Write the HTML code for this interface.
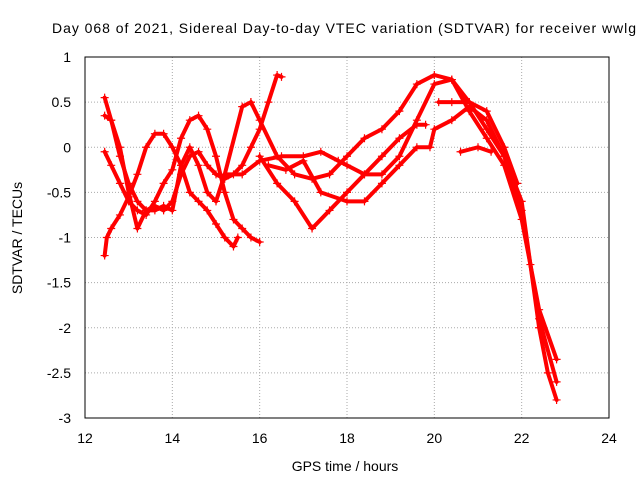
<!DOCTYPE html>
<html><head><meta charset="utf-8"><style>
body{margin:0;background:#fff}
svg{display:block;font-family:"Liberation Sans",sans-serif}
</style></head><body>
<svg id="chart" width="640" height="480">
<text x="52" y="33" font-size="14" textLength="584" lengthAdjust="spacing">Day 068 of 2021, Sidereal Day-to-day VTEC variation (SDTVAR) for receiver wwlg</text>
<text x="345" y="471" font-size="14" text-anchor="middle">GPS time / hours</text>
<text x="22" y="238" font-size="14" text-anchor="middle" transform="rotate(-90 22 238)">SDTVAR / TECUs</text>
<g id="grid"></g>
<g id="ticks"></g>
<g id="series"></g>
<rect x="85" y="57" width="524" height="361" fill="none" stroke="#000"/>
</svg>
<script>
const xTicks=[12,14,16,18,20,22,24];
const yTicks=[1,0.5,0,-0.5,-1,-1.5,-2,-2.5,-3];
const trackA=[[12.45,0.55],[12.6,0.3],[12.8,-0.1],[13.0,-0.4],[13.2,-0.6],[13.4,-0.7],[13.6,-0.65],[13.8,-0.7],[14.0,-0.6],[14.2,-0.3],[14.4,-0.1],[14.6,-0.05],[14.8,-0.2],[15.0,-0.3],[15.2,-0.35],[15.4,-0.3],[15.6,-0.2],[15.8,0.0],[16.0,0.2],[16.2,0.5],[16.4,0.8],[16.5,0.78]];
const trackB=[[12.45,-1.2],[12.5,-1.0],[12.6,-0.9],[12.8,-0.75],[13.0,-0.55],[13.2,-0.3],[13.4,0.0],[13.6,0.15],[13.8,0.15],[14.0,0.0],[14.2,-0.2],[14.4,-0.5],[14.6,-0.6],[14.8,-0.7],[15.0,-0.85],[15.2,-1.0],[15.4,-1.1],[15.5,-1.0]];
const trackC=[[12.45,-0.05],[12.6,-0.2],[12.8,-0.4],[13.0,-0.6],[13.2,-0.7],[13.4,-0.75],[13.6,-0.6],[13.8,-0.4],[14.0,-0.25],[14.2,0.1],[14.4,0.3],[14.6,0.35],[14.8,0.2],[15.0,-0.1],[15.2,-0.5],[15.4,-0.8],[15.6,-0.9],[15.8,-1.0],[16.0,-1.05]];
const trackD=[[12.45,0.35],[12.6,0.3],[12.8,0.0],[13.0,-0.5],[13.2,-0.9],[13.4,-0.7],[13.6,-0.7],[13.8,-0.65],[14.0,-0.7],[14.2,-0.2],[14.4,0.0],[14.6,-0.2],[14.8,-0.5],[15.0,-0.6],[15.2,-0.3],[15.6,0.45],[15.8,0.5]];
const trackE=[[15.2,-0.3],[15.6,-0.3],[16.0,-0.15],[16.5,-0.1],[17.0,-0.1],[17.4,-0.05],[17.8,-0.15],[18.0,-0.2],[18.4,-0.3],[18.8,-0.3],[19.2,-0.1],[19.6,0.3],[20.0,0.7],[20.4,0.75],[20.8,0.5],[21.2,0.2],[21.6,-0.1],[22.0,-0.6],[22.2,-1.3],[22.4,-2.0],[22.6,-2.5],[22.8,-2.8]];
const trackF=[[15.8,0.5],[16.0,0.3],[16.4,-0.1],[16.8,-0.3],[17.2,-0.35],[17.6,-0.3],[18.0,-0.1],[18.4,0.1],[18.8,0.2],[19.2,0.4],[19.6,0.7],[20.0,0.8],[20.4,0.75],[20.8,0.4],[21.2,0.1],[21.6,-0.2],[22.0,-0.8],[22.4,-1.8],[22.8,-2.35]];
const trackG=[[16.0,-0.1],[16.4,-0.4],[16.8,-0.6],[17.2,-0.9],[17.6,-0.7],[18.0,-0.5],[18.4,-0.3],[18.8,-0.1],[19.2,0.1],[19.6,0.25],[19.8,0.25]];
const trackH=[[16.2,-0.2],[16.6,-0.25],[17.0,-0.15],[17.4,-0.5],[18.0,-0.6],[18.4,-0.6],[18.8,-0.4],[19.2,-0.2],[19.6,0.0],[19.9,0.0],[20.0,0.2],[20.4,0.3],[20.8,0.45],[21.2,0.3],[21.6,-0.1],[22.0,-0.7],[22.4,-1.9],[22.8,-2.6]];
const trackI=[[20.1,0.5],[20.4,0.5],[20.8,0.5],[21.2,0.4],[21.6,0.0],[21.9,-0.4]];
const trackJ=[[20.6,-0.05],[21.0,0.0],[21.3,-0.05]];
const tracks=[trackA,trackB,trackC,trackD,trackE,trackF,trackG,trackH,trackI,trackJ];

const X0=85,X1=609,Y0=57,Y1=418;
const xs=v=>X0+(v-12)/(24-12)*(X1-X0);
const ys=v=>Y0+(1-v)/(1-(-3))*(Y1-Y0);
const NS='http://www.w3.org/2000/svg';
const grid=document.getElementById('grid'),ticks=document.getElementById('ticks'),ser=document.getElementById('series');
function mk(t,a,p){const e=document.createElementNS(NS,t);for(const k in a)e.setAttribute(k,a[k]);p.appendChild(e);return e;}
xTicks.forEach(v=>{
 const x=xs(v);
 if(v>12&&v<24){const l=mk('line',{x1:x,x2:x,y1:Y0,y2:Y1,stroke:'#aaa','stroke-dasharray':'1,2'},grid);
 
 }
 const t=mk('text',{x:x,y:443,'font-size':14,'text-anchor':'middle'},ticks);t.textContent=v;
 
 
});
yTicks.forEach(v=>{
 const y=ys(v);
 if(v<1&&v>-3){const l=mk('line',{x1:X0,x2:X1,y1:y,y2:y,stroke:'#aaa','stroke-dasharray':'1,2'},grid);
 
 }
 const t=mk('text',{x:71,y:y+5,'font-size':14,'text-anchor':'end'},ticks);t.textContent=v;
 
 
});
tracks.forEach((tr,i)=>{
 const pts=tr.map(p=>xs(p[0])+','+ys(p[1])).join(' ');
 const pl=mk('polyline',{points:pts,fill:'none',stroke:'#f00','stroke-width':4,'stroke-linejoin':'round','stroke-linecap':'round'},ser);
 
 
 tr.forEach(p=>{const x=xs(p[0]),y=ys(p[1]);
  const m=mk('path',{d:`M${x-4},${y}H${x+4}M${x},${y-4}V${y+4}`,stroke:'#f00','stroke-width':1.2},ser);
  
  
 });
});
</script>
</body></html>
